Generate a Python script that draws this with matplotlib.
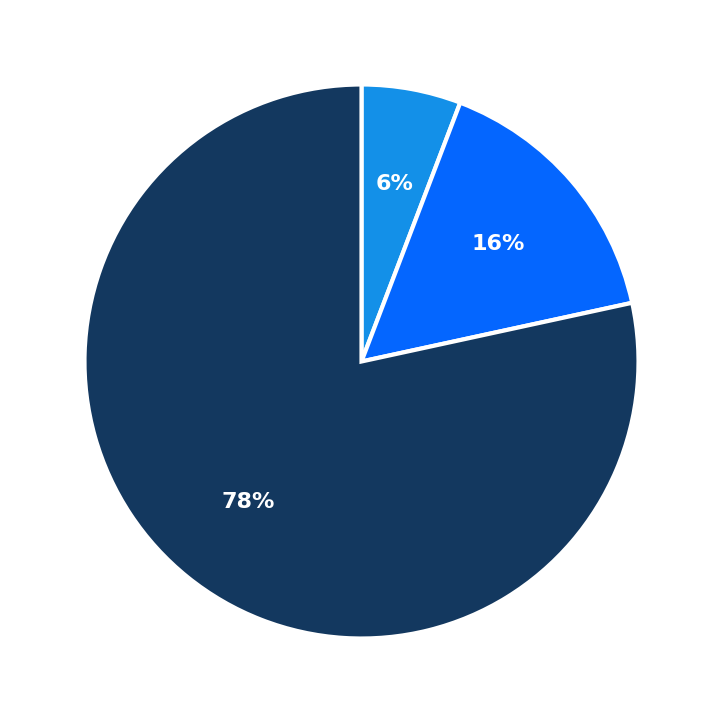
import matplotlib
matplotlib.use("Agg")
import matplotlib.pyplot as plt

labels = ["A", "B", "C"]
values = [5.8, 15.8, 78.4]
colors = ["#1390E8", "#0466FF", "#13385F"]

fig = plt.figure(figsize=(7.23, 7.23), dpi=100)
ax = fig.add_axes([0, 0, 1, 1])
wedges, texts, autotexts = ax.pie(
    values, colors=colors, startangle=90, counterclock=False,
    autopct="%1.0f%%", pctdistance=0.65,
    wedgeprops=dict(edgecolor="white", linewidth=3),
    textprops=dict(color="white", fontsize=16, fontweight="bold"),
)
ax.set_xlim(-1.305, 1.305)
ax.set_ylim(-1.305, 1.305)
ax.set_aspect("equal")
ax.axis("off")
fig.savefig("out.png", dpi=100)
